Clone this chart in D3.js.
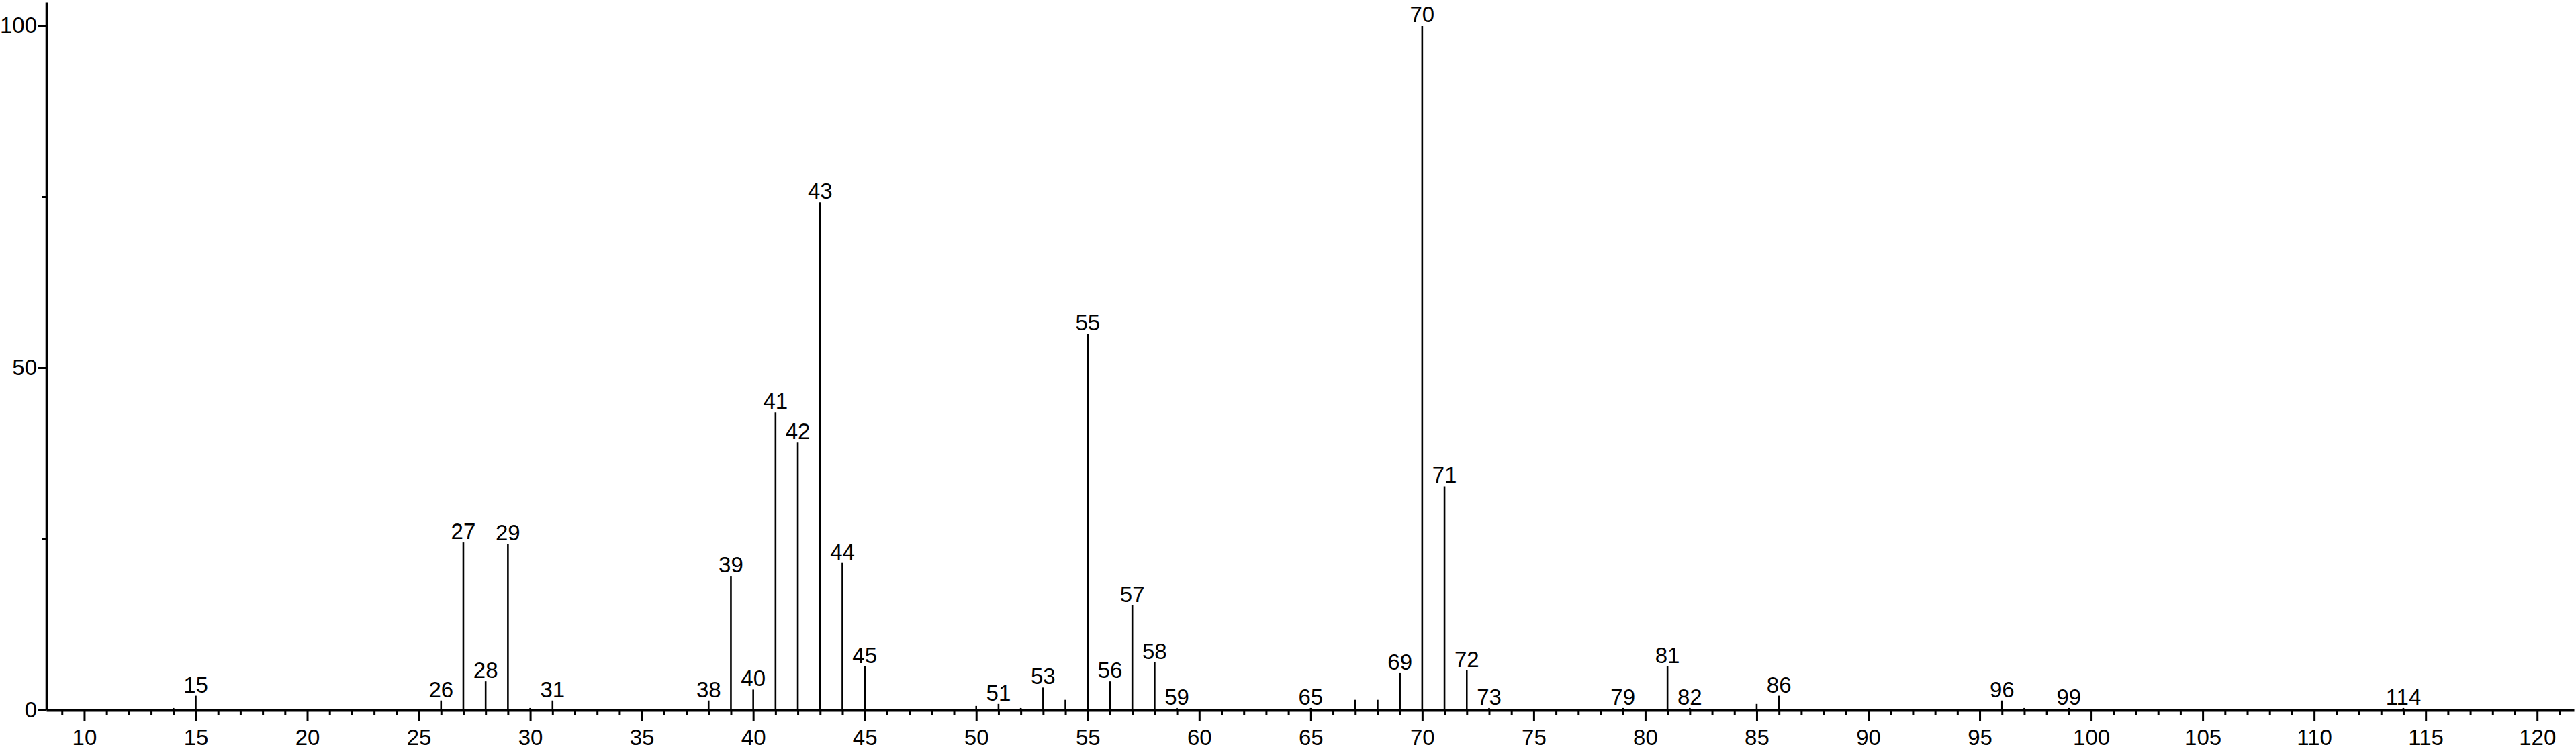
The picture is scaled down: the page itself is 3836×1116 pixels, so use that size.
<!DOCTYPE html>
<html>
<head>
<meta charset="utf-8">
<script src="https://cdn.jsdelivr.net/npm/d3@7"></script>
<style>
  html, body { margin: 0; padding: 0; background: #fff; }
  svg { display: block; }
  text { font-family: "Liberation Sans", Arial, sans-serif; fill: #000; }
</style>
</head>
<body>
<svg id="chart" width="3836" height="1116"></svg>
<script>
// m/z values and relative intensities (%)
const mz =        [14, 15, 26, 27, 28, 29, 30, 31, 38, 39, 40, 41, 42, 43, 44, 45, 50, 51, 52, 53, 54, 55, 56, 57, 58, 59, 65, 67, 68, 69, 70, 71, 72, 73, 79, 81, 82, 85, 86, 96, 97, 99, 114];
const intensity = [0.3, 2.1, 1.4, 24.5, 4.2, 24.3, 0.3, 1.4, 1.4, 19.6, 3.0, 43.5, 39.1, 74.2, 21.5, 6.4, 0.6, 0.9, 0.3, 3.3, 1.5, 55.0, 4.2, 15.3, 7.0, 0.3, 0.3, 1.5, 1.5, 5.4, 100, 32.7, 5.8, 0.3, 0.3, 6.4, 0.3, 0.9, 2.1, 1.4, 0.3, 0.3, 0.3];
// peaks that carry a label
const labelled =  [15, 26, 27, 28, 29, 31, 38, 39, 40, 41, 42, 43, 44, 45, 51, 53, 55, 56, 57, 58, 59, 65, 69, 70, 71, 72, 73, 79, 81, 82, 86, 96, 99, 114];
// axis ticks
const xMajorTicks = d3.range(10, 121, 5);
const xMinorTicks = d3.range(9, 122, 1);
const yMajorTicks = [0, 50, 100];
const yMinorTicks = [25, 75];

const FONT = "33px";
const svg = d3.select("#chart");
const x = d3.scaleLinear().domain([8.3, 121.65]).range([69, 3833]);
const y = d3.scaleLinear().domain([0, 103.43]).range([1058, 3]);

const data = mz.map((m, i) => ({ m, v: intensity[i], label: labelled.includes(m) }));

// peaks
svg.append("g").selectAll("line").data(data).join("line")
  .attr("x1", d => x(d.m)).attr("x2", d => x(d.m))
  .attr("y1", y(0)).attr("y2", d => y(d.v))
  .attr("stroke", "#000").attr("stroke-width", 2.6);

// peak labels
svg.append("g").selectAll("text").data(data.filter(d => d.label)).join("text")
  .attr("x", d => x(d.m)).attr("y", d => y(d.v) - 5)
  .attr("text-anchor", "middle")
  .style("font-size", FONT)
  .text(d => d.m);

// x axis: minor ticks
const gxMinor = svg.append("g").attr("transform", `translate(0,${y(0)})`)
  .call(d3.axisBottom(x).tickValues(xMinorTicks.filter(t => xMajorTicks.indexOf(t) < 0)).tickSize(8).tickSizeOuter(0).tickFormat(""));
gxMinor.select(".domain").remove();
gxMinor.selectAll(".tick line").attr("stroke", "#000").attr("stroke-width", 3);

// x axis: major ticks + labels
const gx = svg.append("g").attr("transform", `translate(0,${y(0)})`)
  .call(d3.axisBottom(x).tickValues(xMajorTicks).tickSize(17).tickSizeOuter(0).tickPadding(12).tickFormat(d3.format("d")));
gx.select(".domain").attr("stroke", "#000").attr("stroke-width", 4);
gx.selectAll(".tick line").attr("stroke", "#000").attr("stroke-width", 3);
gx.selectAll(".tick text").style("font-size", FONT).attr("fill", "#000")
  .style("font-family", "'Liberation Sans', Arial, sans-serif");

// y axis: minor ticks
const gyMinor = svg.append("g").attr("transform", `translate(${x.range()[0]},0)`)
  .call(d3.axisLeft(y).tickValues(yMinorTicks).tickSize(7).tickSizeOuter(0).tickFormat(""));
gyMinor.select(".domain").remove();
gyMinor.selectAll(".tick line").attr("stroke", "#000").attr("stroke-width", 3);

// y axis: major ticks + labels
const gy = svg.append("g").attr("transform", `translate(${x.range()[0]},0)`)
  .call(d3.axisLeft(y).tickValues(yMajorTicks).tickSize(13).tickSizeOuter(0).tickPadding(1).tickFormat(d3.format("d")));
gy.select(".domain").attr("stroke", "#000").attr("stroke-width", 3.6);
gy.selectAll(".tick line").attr("stroke", "#000").attr("stroke-width", 3);
gy.selectAll(".tick text").style("font-size", FONT).attr("fill", "#000")
  .style("font-family", "'Liberation Sans', Arial, sans-serif");
</script>
</body>
</html>
